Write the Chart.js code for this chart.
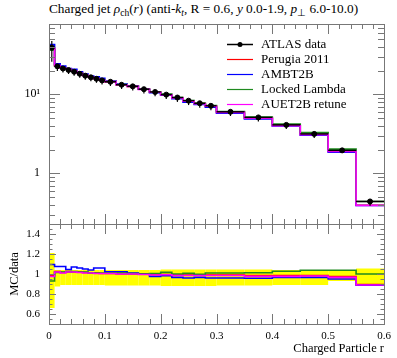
<!DOCTYPE html>
<html>
<head>
<meta charset="utf-8">
<script src="https://cdn.jsdelivr.net/npm/chart.js@4.4.0/dist/chart.umd.min.js"></script>
<style>
  body { margin: 0; background: #fff; }
  #wrap { position: relative; width: 397px; height: 358px; }
  canvas { position: absolute; left: 0; top: 0; }
  #title { position: absolute; left: 49px; top: 1px; font: 13.3px "Liberation Serif", serif; white-space: nowrap; color: #000; }
  #title sub { font-size: 0.72em; vertical-align: -0.3em; line-height: 0; }
</style>
</head>
<body>
<div id="wrap">
  <div id="title">Charged jet <i>ρ</i><sub>ch</sub>(<i>r</i>) (anti-<i>k</i><sub><i>t</i></sub>, R = 0.6, <i>y</i> 0.0-1.9, <i>p</i><sub>⊥</sub> 6.0-10.0)</div>
  <canvas id="mainChart" width="397" height="358"></canvas>
  <canvas id="ratioChart" width="397" height="358"></canvas>
</div>
<script>
// bin edges in r
const binEdges = [0, 0.01, 0.02, 0.03, 0.04, 0.05, 0.06, 0.07, 0.08, 0.09, 0.1,
  0.12, 0.14, 0.16, 0.18, 0.2, 0.22, 0.24, 0.26, 0.28, 0.3,
  0.35, 0.4, 0.45, 0.5, 0.55, 0.6];

// ATLAS data, rho_ch(r)
const atlasData = [39, 22.6, 21.2, 20.3, 19.3, 18.2, 17.2, 16.4, 15.7, 15.0,
  14.4, 13.2, 12.6, 11.6, 10.7, 9.9, 9.1, 8.3, 7.7, 7.15,
  6.0, 5.1, 4.1, 3.15, 1.95, 0.44];

// data uncertainty band (relative to data)
const dataBandHi = [1.21, 1.04, 1.04, 1.04, 1.04, 1.04, 1.04, 1.04, 1.04, 1.04,
  1.04, 1.04, 1.04, 1.04, 1.04, 1.045, 1.045, 1.045, 1.045, 1.045,
  1.045, 1.045, 1.04, 1.04, 1.04, 1.055];
const dataBandLo = [0.66, 0.875, 0.89, 0.89, 0.89, 0.89, 0.89, 0.89, 0.89, 0.89,
  0.885, 0.885, 0.885, 0.885, 0.885, 0.88, 0.88, 0.88, 0.88, 0.88,
  0.885, 0.885, 0.89, 0.89, 0.93, 0.88];

// MC / data
const perugiaRatio = [0.985, 1.025, 1.015, 1.025, 1.02, 1.02, 1.015, 1.01, 1.01, 1.005,
  1.005, 1.0, 1.0, 1.0, 0.995, 0.995, 0.99, 0.99, 0.99, 0.99,
  0.99, 0.985, 0.985, 0.985, 0.975, 0.895];
const ambtRatio = [1.095, 1.075, 1.075, 1.045, 1.07, 1.06, 1.05, 1.04, 1.06, 1.06,
  1.023, 1.023, 1.01, 1.0, 0.976, 0.983, 0.966, 0.96, 0.966, 0.96,
  0.96, 0.958, 0.966, 0.966, 0.95, 0.888];
const lockedRatio = [0.93, 1.015, 1.02, 1.02, 1.025, 1.02, 1.02, 1.01, 1.01, 1.01,
  1.01, 1.01, 1.005, 1.0, 1.005, 1.016, 1.0, 1.006, 0.997, 1.01,
  1.01, 1.012, 1.027, 1.037, 1.037, 1.0];
const auetRatio = [0.975, 1.02, 1.01, 1.02, 1.02, 1.015, 1.01, 1.01, 1.005, 1.005,
  1.005, 1.0, 1.0, 0.995, 0.99, 0.993, 0.985, 0.985, 0.985, 0.985,
  0.985, 0.976, 0.976, 0.98, 0.966, 0.89];

const seriesNames = ['ATLAS data', 'Perugia 2011', 'AMBT2B', 'Locked Lambda', 'AUET2B retune'];
const seriesColors = ['#000000', '#ff0000', '#0000ff', '#1f8a1f', '#ff00ff'];
const ratioTicks = [0.6, 0.8, 1, 1.2, 1.4];
const logTicks = [1, 10];

Chart.defaults.font.family = '"Liberation Serif", serif';
Chart.defaults.color = '#000';

const frameColor = '#777';
const yellow = '#ffff00';

function stepPoints(vals) {
  const pts = vals.map((v, i) => ({ x: binEdges[i], y: v }));
  pts.push({ x: binEdges[binEdges.length - 1], y: vals[vals.length - 1] });
  return pts;
}

function mcLine(i, vals) {
  return {
    type: 'line',
    label: seriesNames[i],
    data: stepPoints(vals),
    stepped: 'before',
    borderColor: seriesColors[i],
    borderWidth: 1.6,
    pointRadius: 0,
    fill: false
  };
}

function drawXTicks(ctx, a, xs) {
  for (let i = 0; i <= 30; i++) {
    const x = Math.round(xs.getPixelForValue(i * 0.02)) + 0.5;
    const len = i % 5 == 0 ? 10 : 5;
    ctx.moveTo(x, a.top); ctx.lineTo(x, a.top + len);
    ctx.moveTo(x, a.bottom); ctx.lineTo(x, a.bottom - len);
  }
}

function drawYTick(ctx, a, y, len) {
  y = Math.round(y) + 0.5;
  ctx.moveTo(a.left, y); ctx.lineTo(a.left + len, y);
  ctx.moveTo(a.right, y); ctx.lineTo(a.right - len, y);
}

const mainFrame = {
  id: 'mainFrame',
  afterDatasetsDraw(chart) {
    const { ctx, scales } = chart;
    const xs = scales.x, ys = scales.y;
    // data error bars
    ctx.save();
    ctx.strokeStyle = '#000';
    atlasData.forEach((v, i) => {
      const x1 = xs.getPixelForValue(binEdges[i]);
      const x2 = xs.getPixelForValue(binEdges[i + 1]);
      const xc = (x1 + x2) / 2;
      const y = ys.getPixelForValue(v);
      ctx.lineWidth = 1.5;
      ctx.beginPath(); ctx.moveTo(x1, y); ctx.lineTo(x2, y); ctx.stroke();
      ctx.lineWidth = 1.2;
      ctx.beginPath();
      ctx.moveTo(xc, ys.getPixelForValue(v * dataBandHi[i]));
      ctx.lineTo(xc, ys.getPixelForValue(v * dataBandLo[i]));
      ctx.stroke();
    });
    ctx.restore();
  },
  afterDraw(chart) {
    const { ctx, chartArea: a, scales } = chart;
    ctx.save();
    ctx.strokeStyle = frameColor;
    ctx.lineWidth = 1;
    ctx.strokeRect(Math.round(a.left) + 0.5, Math.round(a.top) + 0.5,
      Math.round(a.right - a.left), Math.round(a.bottom - a.top));
    ctx.beginPath();
    drawXTicks(ctx, a, scales.x);
    [0.1, 1, 10].forEach(d => {
      for (let m = 1; m <= 9; m++) {
        const v = m * d;
        if (v < scales.y.min || v > scales.y.max) continue;
        drawYTick(ctx, a, scales.y.getPixelForValue(v), m == 1 ? 11 : 6);
      }
    });
    ctx.stroke();

    // legend
    ctx.font = '13px "Liberation Serif", serif';
    ctx.textBaseline = 'middle';
    ctx.fillStyle = '#000';
    seriesNames.forEach((name, i) => {
      const y = 44.5 + i * 15;
      ctx.strokeStyle = seriesColors[i];
      ctx.lineWidth = i == 0 ? 1.5 : 1.2;
      ctx.beginPath(); ctx.moveTo(227, y); ctx.lineTo(253, y); ctx.stroke();
      if (i == 0) {
        ctx.beginPath(); ctx.arc(240, y, 2.5, 0, Math.PI * 2); ctx.fill();
      }
      ctx.fillText(name, 261, y + 0.5);
    });
    ctx.restore();
  }
};

const ratioFrame = {
  id: 'ratioFrame',
  beforeDatasetsDraw(chart) {
    // data uncertainty band
    const { ctx, scales } = chart;
    const xs = scales.x, ys = scales.y;
    ctx.save();
    ctx.fillStyle = yellow;
    dataBandHi.forEach((hi, i) => {
      const x1 = xs.getPixelForValue(binEdges[i]);
      const x2 = xs.getPixelForValue(binEdges[i + 1]);
      const y1 = ys.getPixelForValue(hi);
      const y2 = ys.getPixelForValue(dataBandLo[i]);
      ctx.fillRect(x1, y1, x2 - x1, y2 - y1);
    });
    ctx.restore();
  },
  afterDraw(chart) {
    const { ctx, chartArea: a, scales } = chart;
    ctx.save();
    ctx.strokeStyle = frameColor;
    ctx.lineWidth = 1;
    ctx.strokeRect(Math.round(a.left) + 0.5, Math.round(a.top) + 0.5,
      Math.round(a.right - a.left), Math.round(a.bottom - a.top));
    ctx.beginPath();
    drawXTicks(ctx, a, scales.x);
    for (let i = 1; i < 20; i++) {
      const v = 0.5 + i * 0.05;
      drawYTick(ctx, a, scales.y.getPixelForValue(v), i % 4 == 2 ? 7 : 3.5);
    }
    ctx.stroke();
    ctx.restore();
  }
};

new Chart(document.getElementById('mainChart'), {
  data: {
    datasets: [
      {
        type: 'scatter',
        label: seriesNames[0],
        data: atlasData.map((v, i) => ({ x: (binEdges[i] + binEdges[i + 1]) / 2, y: v })),
        backgroundColor: '#000',
        borderColor: '#000',
        pointRadius: 2.5
      },
      mcLine(4, atlasData.map((v, i) => v * auetRatio[i])),
      mcLine(3, atlasData.map((v, i) => v * lockedRatio[i])),
      mcLine(2, atlasData.map((v, i) => v * ambtRatio[i])),
      mcLine(1, atlasData.map((v, i) => v * perugiaRatio[i]))
    ]
  },
  options: {
    responsive: false,
    animation: false,
    devicePixelRatio: 1,
    layout: { padding: { left: 0, right: 13, top: 24, bottom: 134 } },
    plugins: { legend: { display: false }, tooltip: { enabled: false } },
    scales: {
      x: { type: 'linear', min: 0, max: 0.6, display: false },
      y: {
        type: 'logarithmic',
        min: 0.228,
        max: 77.6,
        afterFit: s => { s.width = 49; },
        afterBuildTicks: s => { s.ticks = logTicks.map(v => ({ value: v })); },
        grid: { display: false, drawTicks: false },
        border: { display: false },
        ticks: {
          padding: 9,
          font: { size: 12 },
          callback: v => v == 10 ? '10¹' : (v == 1 ? '1' : '')
        }
      }
    }
  },
  plugins: [mainFrame]
});

new Chart(document.getElementById('ratioChart'), {
  data: {
    datasets: [
      mcLine(4, auetRatio),
      mcLine(3, lockedRatio),
      mcLine(2, ambtRatio),
      mcLine(1, perugiaRatio)
    ]
  },
  options: {
    responsive: false,
    animation: false,
    devicePixelRatio: 1,
    layout: { padding: { left: 0, right: 13, top: 224, bottom: 0 } },
    plugins: { legend: { display: false }, tooltip: { enabled: false } },
    scales: {
      x: {
        type: 'linear', min: 0, max: 0.6,
        afterFit: s => { s.height = 34; },
        grid: { display: false, drawTicks: false },
        border: { display: false },
        ticks: {
          stepSize: 0.1, padding: 6, font: { size: 11 }, maxRotation: 0,
          callback: v => v == 0 ? '0' : v.toFixed(1)
        },
        title: { display: true, text: 'Charged Particle r', align: 'end', font: { size: 12.5 }, padding: { top: 0, bottom: 2 } }
      },
      y: {
        type: 'linear', min: 0.5, max: 1.5,
        afterFit: s => { s.width = 49; },
        afterBuildTicks: s => { s.ticks = ratioTicks.map(v => ({ value: v })); },
        grid: { display: false, drawTicks: false },
        border: { display: false },
        ticks: { padding: 9, font: { size: 11 }, callback: v => String(v) },
        title: { display: true, text: 'MC/data', font: { size: 12.5 }, padding: { top: 7, bottom: 0 } }
      }
    }
  },
  plugins: [ratioFrame]
});
</script>
</body>
</html>
